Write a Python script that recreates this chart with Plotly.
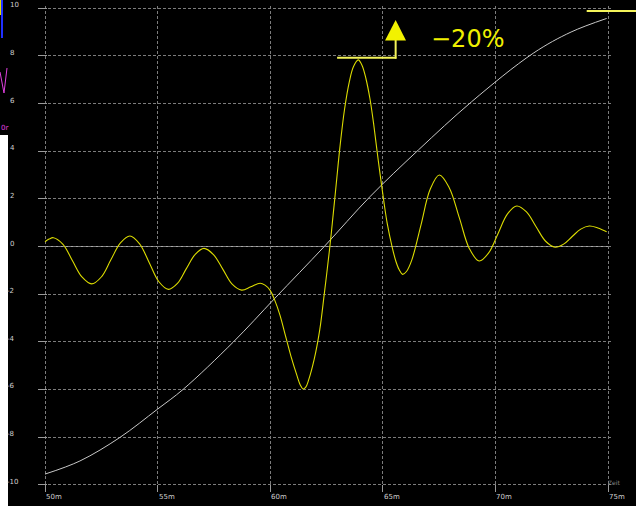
import plotly.graph_objects as go

# ---------------- data ----------------
yellow_x = [50.00, 50.18, 50.37, 50.80, 51.22, 51.65, 52.07, 52.50, 52.92, 53.35,
            53.77, 54.20, 54.63, 55.05, 55.48, 55.88, 56.27, 56.67, 57.06, 57.48,
            57.90, 58.31, 58.73, 59.14, 59.55, 59.77, 59.99, 60.20, 60.43, 60.68,
            60.92, 61.20, 61.33, 61.46, 61.58, 61.70, 61.95, 62.20, 62.40, 62.65,
            62.76, 62.93, 63.10, 63.30, 63.51, 63.70, 63.91, 64.08, 64.25, 64.43,
            64.60, 64.80, 65.03, 65.20, 65.41, 65.58, 65.73, 65.88, 66.05, 66.29,
            66.70, 67.10, 67.51, 67.95, 68.40, 68.84, 69.28, 69.70, 70.12, 70.53,
            70.95, 71.38, 71.80, 72.23, 72.65, 73.03, 73.41, 73.79, 74.17, 74.55,
            74.94]
yellow_y = [0.20, 0.31, 0.37, 0.09, -0.60, -1.29, -1.57, -1.28, -0.57, 0.15,
            0.44, 0.11, -0.68, -1.47, -1.80, -1.55, -0.94, -0.33, -0.08, -0.34,
            -0.96, -1.58, -1.83, -1.69, -1.54, -1.62, -1.83, -2.25, -2.87, -3.75,
            -4.60, -5.45, -5.80, -5.98, -5.90, -5.62, -4.75, -3.50, -2.00, 0.00,
            1.00, 2.60, 4.20, 5.75, 6.90, 7.55, 7.83, 7.60, 7.05, 6.20,
            5.10, 3.60, 2.00, 0.95, 0.00, -0.62, -0.98, -1.17, -1.05, -0.56,
            0.92, 2.39, 3.00, 2.47, 1.20, -0.08, -0.61, -0.27, 0.55, 1.36,
            1.70, 1.45, 0.84, 0.22, -0.03, 0.10, 0.42, 0.73, 0.86, 0.78,
            0.62]

white_x = [50.00, 51.55, 53.33, 54.99, 56.14, 58.36, 60.21, 62.40, 64.43, 66.58,
           68.95, 71.68, 73.36, 74.94]
white_y = [-9.55, -9.00, -8.01, -6.83, -5.99, -4.01, -2.17, 0.00, 2.09, 4.05,
           6.08, 8.11, 9.00, 9.57]

x_ticks = [50, 55, 60, 65, 70, 75]
x_tick_labels = ["50m", "55m", "60m", "65m", "70m", "75m"]
y_ticks = [10, 8, 6, 4, 2, 0, -2, -4, -6, -8, -10]
y_tick_labels = ["10", "8", "6", "4", "2", "0", "-2", "-4", "-6", "-8", "-10"]

marker_text = "\u221220%"
x_title = "Zeit"
# -----------------------------------------------------------------

W, H = 636, 506
ML, MR, MT, MB = 38, 25, 6, 14
PW, PH = W - ML - MR, H - MT - MB


def px_x(p):  # pixel -> paper x
    return (p - ML) / PW


def px_y(p):  # pixel -> paper y
    return (H - MB - p) / PH


fig = go.Figure()
fig.add_trace(go.Scatter(x=white_x, y=white_y, mode="lines",
                         line=dict(color="#c8c8c8", width=1, shape="spline", smoothing=1.0),
                         hoverinfo="skip", showlegend=False))
fig.add_trace(go.Scatter(x=yellow_x, y=yellow_y, mode="lines",
                         line=dict(color="#dcdc00", width=1.1, shape="spline", smoothing=1.0),
                         hoverinfo="skip", showlegend=False))

shapes = []
# zero line over the data span
shapes.append(dict(type="line", xref="x", yref="y", x0=x_ticks[0], x1=x_ticks[-1], y0=0, y1=0,
                   line=dict(color="#a8a8a8", width=1), layer="below"))

# marker: step line + arrow
mc = "#f4f45a"
shapes.append(dict(type="line", xref="x", yref="y", x0=62.97, x1=65.60, y0=7.92, y1=7.92,
                   line=dict(color=mc, width=2)))
shapes.append(dict(type="line", xref="x", yref="y", x0=65.57, x1=65.57, y0=7.88, y1=8.70,
                   line=dict(color=mc, width=2)))
shapes.append(dict(type="path", xref="x", yref="y",
                   path="M 65.10 8.64 L 66.03 8.64 L 65.57 9.50 Z",
                   fillcolor="#f2f200", line=dict(color="#f2f200", width=0)))
# top-right marker bar
shapes.append(dict(type="line", xref="paper", yref="paper", x0=px_x(586.7), x1=px_x(640),
                   y0=px_y(11), y1=px_y(11), line=dict(color=mc, width=2)))

# left-edge fragments
shapes.append(dict(type="rect", xref="paper", yref="paper", x0=px_x(-2), x1=px_x(8),
                   y0=px_y(510), y1=px_y(135), fillcolor="white", line=dict(width=0)))
shapes.append(dict(type="line", xref="paper", yref="paper", x0=px_x(2), x1=px_x(2),
                   y0=px_y(0), y1=px_y(38), line=dict(color="#2030ff", width=2)))
shapes.append(dict(type="line", xref="paper", yref="paper", x0=px_x(0.5), x1=px_x(0.5),
                   y0=px_y(0), y1=px_y(15), line=dict(color="#e0e000", width=1)))
shapes.append(dict(type="path", xref="paper", yref="paper",
                   path="M %f %f L %f %f L %f %f" % (px_x(0), px_y(72), px_x(4), px_y(93), px_x(7), px_y(68)),
                   line=dict(color="#e040e0", width=1)))

annotations = []
lab_font = dict(family="DejaVu Sans", size=7, color="#d0d0d0")
for v, t in zip(y_ticks, y_tick_labels):
    annotations.append(dict(xref="paper", yref="y", x=px_x(4.5 if v < 0 else 8), y=v,
                            text=t, showarrow=False, xanchor="left", yanchor="middle",
                            yshift=3, font=lab_font))
for v, t in zip(x_ticks, x_tick_labels):
    annotations.append(dict(xref="x", yref="paper", x=v, y=px_y(497),
                            text=t, showarrow=False, xanchor="left", yanchor="middle",
                            xshift=-1, font=lab_font))
annotations.append(dict(xref="paper", yref="paper", x=px_x(606), y=px_y(482), text=x_title,
                        showarrow=False, xanchor="left", yanchor="middle",
                        font=dict(family="DejaVu Sans", size=6, color="#8a8a8a")))
annotations.append(dict(xref="x", yref="y", x=68.78, y=8.72, text=marker_text,
                        showarrow=False, xanchor="center", yanchor="middle",
                        font=dict(family="DejaVu Sans", size=24, color="#f0f000")))
annotations.append(dict(xref="paper", yref="paper", x=px_x(-1), y=px_y(128), text="0r",
                        showarrow=False, xanchor="left", yanchor="middle",
                        font=dict(family="DejaVu Sans", size=7, color="#e040e0")))

xs = 22.51  # px per m
ys = 23.83  # px per unit
fig.update_layout(
    width=W, height=H,
    margin=dict(l=ML, r=MR, t=MT, b=MB, pad=0),
    paper_bgcolor="black", plot_bgcolor="black",
    showlegend=False,
    shapes=shapes, annotations=annotations,
    xaxis=dict(range=[50 - 7 / xs, 75 + 3 / xs], tickvals=x_ticks, showticklabels=False,
               showgrid=True, gridcolor="#7c7c7c", griddash="3px,2px", gridwidth=1,
               zeroline=False, showline=False, ticks="inside", ticklen=7,
               tickcolor="#9a9a9a", fixedrange=True),
    yaxis=dict(range=[-10 - 7.2 / ys, 10 + 2.2 / ys], tickvals=y_ticks, showticklabels=False,
               showgrid=True, gridcolor="#7c7c7c", griddash="3px,2px", gridwidth=1,
               zeroline=False, showline=False, ticks="inside", ticklen=9,
               tickcolor="#9a9a9a", fixedrange=True),
)

fig.write_html("out.html")
